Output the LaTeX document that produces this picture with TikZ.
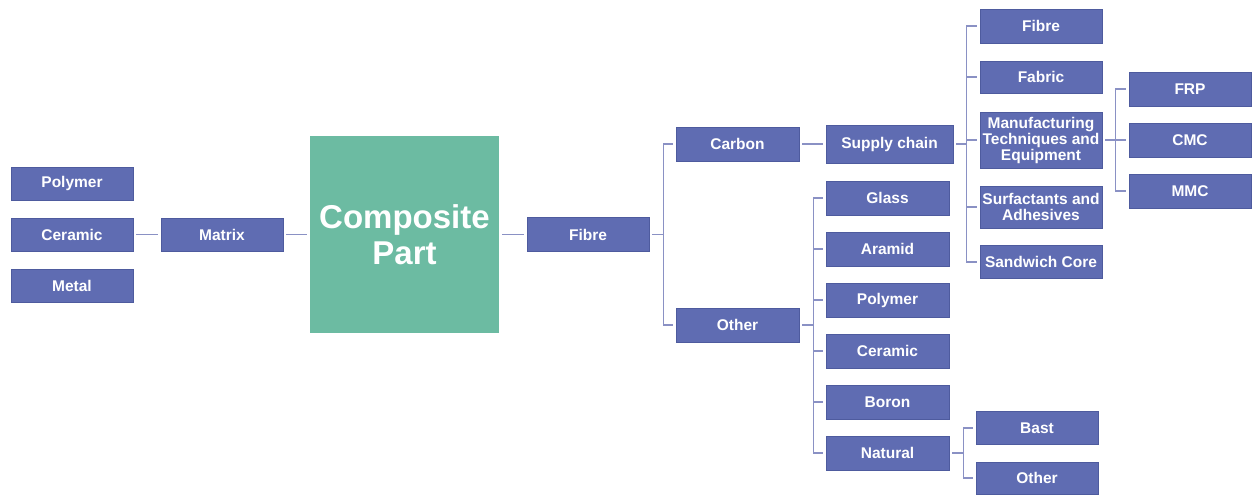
\documentclass[tikz,border=0pt]{standalone}
\usepackage{fontspec}
\setmainfont{Liberation Sans}
\definecolor{boxblue}{HTML}{5F6CB2}
\definecolor{boxedge}{HTML}{4E5B9E}
\definecolor{partgreen}{HTML}{6CBBA2}
\definecolor{linkcol}{HTML}{8A91C4}
\begin{document}
\begin{tikzpicture}[x=1pt,y=-1pt,
  box/.style={draw=boxedge, line width=0.8pt, fill=boxblue, text=white,
    inner sep=0pt, align=center, minimum width=122pt, minimum height=34pt,
    font=\bfseries\fontsize{15.5}{16}\selectfont},
  part/.style={fill=partgreen, text=white, inner sep=0pt, align=center,
    minimum width=189pt, minimum height=197pt,
    font=\bfseries\fontsize{33}{36}\selectfont},
  link/.style={draw=linkcol, line width=1.6pt, shorten <=3pt, shorten >=3pt}]
\useasboundingbox (0,0) rectangle (1252,495);

% matrix side
\node[box, minimum height=33pt] (polyL)  at (72,183.5) {Polymer};
\node[box, minimum height=33pt] (ceramL) at (72,234.5) {Ceramic};
\node[box, minimum height=33pt] (metalL) at (72,286)   {Metal};
\node[box, minimum height=33pt] (matrix) at (222,234.5) {Matrix};

% centre part
\node[part] (comp) at (404.5,234.5) {Composite\\Part};

% fibre side
\node[box] (fibre)  at (588,234.5) {Fibre};
\node[box, minimum width=123pt] (carbon) at (737.5,144) {Carbon};
\node[box, minimum width=123pt] (other)  at (737.5,325) {Other};
\node[box, minimum width=127pt, minimum height=38pt] (supply) at (889.5,144) {Supply chain};

\node[box, minimum width=123pt] (glass)   at (887.5,198) {Glass};
\node[box, minimum width=123pt] (aramid)  at (887.5,249) {Aramid};
\node[box, minimum width=123pt] (polyR)   at (887.5,300) {Polymer};
\node[box, minimum width=123pt] (ceramR)  at (887.5,351) {Ceramic};
\node[box, minimum width=123pt] (boron)   at (887.5,402) {Boron};
\node[box, minimum width=123pt] (natural) at (887.5,453) {Natural};

\node[box, minimum height=33pt] (bast)   at (1037,428) {Bast};
\node[box, minimum height=32pt] (other2) at (1037,478) {Other};

% supply chain branches
\node[box] (fibre2) at (1041,26) {Fibre};
\node[box, minimum height=32pt] (fabric) at (1041,77) {Fabric};
\node[box, minimum height=56pt] (manuf) at (1041,140) {Manufacturing\\Techniques and\\Equipment};
\node[box, minimum height=42pt] (surf) at (1041,207) {Surfactants and\\Adhesives};
\node[box, minimum height=33pt] (sandwich) at (1041,262) {Sandwich Core};

\node[box] (frp) at (1190,89)  {FRP};
\node[box] (cmc) at (1190,140) {CMC};
\node[box] (mmc) at (1190,191) {MMC};

% connectors
\draw[link] (ceramL.east) -- (matrix.west);
\draw[link] (matrix.east) -- (comp.west);
\draw[link] (comp.east) -- (fibre.west);

\foreach \t in {carbon,other}
  \draw[link] (fibre.east) -- ++(14,0) |- (\t.west);

\draw[link] (carbon.east) -- (supply.west);

\foreach \t in {fibre2,fabric,manuf,surf,sandwich}
  \draw[link] (supply.east) -- ++(13,0) |- (\t.west);

\foreach \t in {glass,aramid,polyR,ceramR,boron,natural}
  \draw[link] (other.east) -- ++(14,0) |- (\t.west);

\foreach \t in {bast,other2}
  \draw[link] (natural.east) -- ++(14,0) |- (\t.west);

\foreach \t in {frp,cmc,mmc}
  \draw[link] (manuf.east) -- ++(13,0) |- (\t.west);
\end{tikzpicture}
\end{document}
